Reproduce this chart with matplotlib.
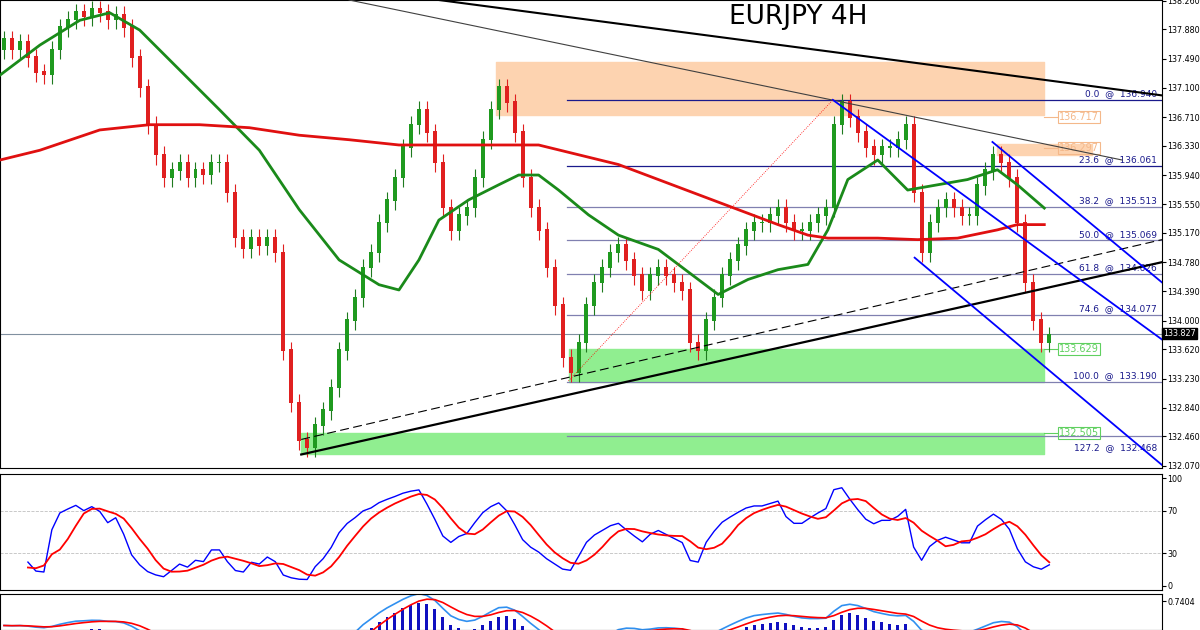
import numpy as np
import pandas as pd
import matplotlib.pyplot as plt

# closes, one candle every 8 px of chart width
closes = [137.74, 137.6, 137.7, 137.5, 137.3, 137.27, 137.6, 137.9, 138.0, 138.1, 138.05, 138.14, 138.1, 138.0,
          138.07, 137.9, 137.5, 137.1, 136.6, 136.2, 135.9, 136.0, 136.1, 135.9, 136.0, 135.94, 136.1, 136.1,
          135.7, 135.1, 134.95, 135.1, 135.0, 135.1, 134.9, 133.6, 132.9, 132.4, 132.3, 132.6, 132.8, 133.1,
          133.6, 134.0, 134.3, 134.7, 134.9, 135.3, 135.6, 135.9, 136.3, 136.6, 136.8, 136.5, 136.1, 135.5,
          135.2, 135.4, 135.5, 135.9, 136.4, 136.8, 137.1, 136.9, 136.5, 135.9, 135.5, 135.2, 134.7, 134.2,
          133.5, 133.3, 133.7, 134.2, 134.5, 134.7, 134.9, 135.0, 134.8, 134.6, 134.4, 134.6, 134.7, 134.6,
          134.5, 134.4, 133.7, 133.6, 134.0, 134.3, 134.6, 134.8, 135.0, 135.2, 135.3, 135.3, 135.4, 135.5,
          135.3, 135.2, 135.2, 135.3, 135.4, 135.5, 136.6, 136.9, 136.7, 136.5, 136.3, 136.2, 136.3, 136.3,
          136.4, 136.6, 135.7, 134.9, 135.3, 135.5, 135.6, 135.5, 135.4, 135.4, 135.8, 136.0, 136.2, 136.1,
          135.9, 135.3, 134.5, 134.0, 133.7, 133.8]
open0 = 137.6

# moving averages (x in px, price)
fast_x = [0, 40, 80, 110, 140, 180, 220, 260, 300, 340, 380, 400, 420, 440, 470, 500, 520, 540, 560, 590,
          620, 660, 700, 720, 750, 780, 810, 830, 850, 880, 910, 940, 970, 1000, 1020, 1047]
fast_y = [137.27, 137.67, 138.0, 138.1, 137.87, 137.34, 136.81, 136.27, 135.48, 134.81, 134.48, 134.41,
          134.81, 135.34, 135.61, 135.81, 135.94, 135.94, 135.74, 135.41, 135.14, 134.95, 134.55, 134.35,
          134.55, 134.68, 134.75, 135.21, 135.88, 136.14, 135.74, 135.81, 135.88, 136.01, 135.81, 135.5]
slow_x = [0, 40, 100, 150, 200, 250, 300, 350, 400, 450, 500, 540, 580, 620, 660, 700, 740, 780, 810, 830,
          880, 920, 960, 1000, 1020, 1047]
slow_y = [136.14, 136.27, 136.54, 136.61, 136.61, 136.57, 136.47, 136.41, 136.34, 136.34, 136.34, 136.34,
          136.21, 136.08, 135.88, 135.68, 135.48, 135.28, 135.14, 135.1, 135.1, 135.08, 135.1, 135.21,
          135.28, 135.28]

fib_pct = ["0.0", "23.6", "38.2", "50.0", "61.8", "74.6", "100.0", "127.2"]
fib_lvl = [136.940, 136.061, 135.513, 135.069, 134.626, 134.077, 133.190, 132.468]
price_ticks = [138.260, 137.880, 137.490, 137.100, 136.710, 136.330, 135.940, 135.550, 135.170,
               134.780, 134.390, 134.000, 133.620, 133.230, 132.840, 132.460, 132.070]
last_price = 133.827

c = np.array(closes)
o = np.r_[open0, c[:-1]]
x = np.arange(len(c)) * 8 + 4
s = pd.Series(c)

fig = plt.figure(figsize=(12, 6.3), dpi=100)
W = 1162 / 1200
ax = fig.add_axes([0, 162 / 630, W, 468 / 630])
ax.set_xlim(0, 1165)
ax.set_ylim(132.04, 138.27)

# zones
ax.fill_between([497, 1047], 136.74, 137.45, color="#fdd3b0", zorder=1)
ax.fill_between([570, 1047], 133.18, 133.63, color="#90ee90", zorder=1)
ax.fill_between([302, 1047], 132.22, 132.51, color="#90ee90", zorder=1)
ax.fill_between([1000, 1095], 136.2, 136.35, color="#fdd3b0", zorder=1)

# fib
for p, l in zip(fib_pct, fib_lvl):
    ax.plot([568, 1165], [l, l], color="#1a1a8c" if p in ("0.0", "23.6") else "#8080b0", lw=0.9, zorder=2)
    dy = -0.1 if p == "127.2" else 0.02
    ax.text(1160, l + dy, f"{p}  @  {l:.3f}", ha="right", va="bottom" if dy > 0 else "top",
            fontsize=6.5, color="#1a1a8c")
ax.axhline(last_price, color="#8090a0", lw=0.8, zorder=2)

for txt, lv, col in [("136.717", 136.717, "#f4b88a"), ("136.297", 136.297, "#f4b88a"),
                     ("133.629", 133.629, "#60d060"), ("132.505", 132.505, "#60d060")]:
    ax.plot([1047, 1060], [lv, lv], color=col, lw=0.8)
    ax.text(1062, lv, txt, fontsize=7, color=col, va="center",
            bbox=dict(boxstyle="square,pad=0.1", fc="none", ec=col, lw=0.8))

# candles
up = c >= o
ax.vlines(x, np.minimum(o, c) - 0.12, np.maximum(o, c) + 0.12, color=np.where(up, "#1f7a1f", "#e02020"), lw=0.8, zorder=3)
ax.bar(x, np.abs(c - o) + 0.02, bottom=np.minimum(o, c), width=4, color=np.where(up, "#1f9a1f", "#e02020"), zorder=3)
ax.plot(fast_x, fast_y, color="#1a8a1a", lw=2, zorder=4)
ax.plot(slow_x, slow_y, color="#e01010", lw=2, zorder=4)

# trend lines
ax.plot([440, 1165], [138.27, 137.0], color="black", lw=1.5, zorder=5)
ax.plot([350, 1125], [138.27, 136.14], color="#404040", lw=0.8, zorder=5)
ax.plot([302, 1165], [132.22, 134.78], color="black", lw=1.6, zorder=5)
ax.plot([302, 1165], [132.42, 135.08], color="black", lw=0.8, ls=(0, (8, 4)), zorder=5)
ax.plot([835, 1165], [136.94, 133.75], color="blue", lw=1.3, zorder=5)
ax.plot([917, 1165], [134.84, 132.08], color="blue", lw=1.3, zorder=5)
ax.plot([995, 1165], [136.38, 134.51], color="blue", lw=1.3, zorder=5)
ax.plot([570, 835], [133.2, 136.94], color="red", lw=0.6, ls=":", zorder=5)

ax.text(800, 137.95, "EURJPY 4H", fontsize=19, ha="center")
ax.yaxis.tick_right()
ax.set_yticks(price_ticks)
ax.set_yticklabels([f"{t:.3f}" for t in price_ticks], fontsize=5.8)
ax.tick_params(axis="y", length=3, pad=1)
ax.text(1166, last_price, f"{last_price:.3f}", fontsize=5.8, color="white", va="center",
        bbox=dict(boxstyle="square,pad=0.1", fc="black"), clip_on=False)
ax.set_xticks([])

# RSI panel
d = s.diff().fillna(0)
g = d.clip(lower=0).ewm(span=12).mean()
ls_ = (-d.clip(upper=0)).ewm(span=12).mean()
rsi = 100 - 100 / (1 + g / (ls_ + 1e-9))
r = fig.add_axes([0, 40 / 630, W, 116 / 630])
r.set_xlim(0, 1165)
r.set_ylim(-4, 104)
for lv in (30, 70):
    r.axhline(lv, color="#c0c0c0", ls="--", lw=0.6)
r.plot(x[3:], rsi[3:], color="blue", lw=1)
r.plot(x[3:], rsi.rolling(5, min_periods=1).mean()[3:], color="red", lw=1.3)
r.yaxis.tick_right()
r.set_yticks([0, 30, 70, 100])
r.tick_params(labelsize=5.8, length=3, pad=1)
r.set_xticks([])

# MACD panel (only top visible)
e1 = s.ewm(span=6).mean() - s.ewm(span=13).mean()
sig = e1.ewm(span=5).mean()
m = fig.add_axes([0, 0, W, 36 / 630])
m.set_xlim(0, 1165)
m.set_ylim(0.1, 0.9)
m.bar(x, e1, width=3, color="#1010c0")
m.plot(x, e1 + 0.2, color="#3090f0", lw=1.2)
m.plot(x, sig + 0.2, color="red", lw=1.2)
m.yaxis.tick_right()
m.set_yticks([0.7404])
m.set_yticklabels(["0.7404"])
m.tick_params(labelsize=5.8, length=3, pad=1)
m.set_xticks([])

fig.savefig("out.png")
